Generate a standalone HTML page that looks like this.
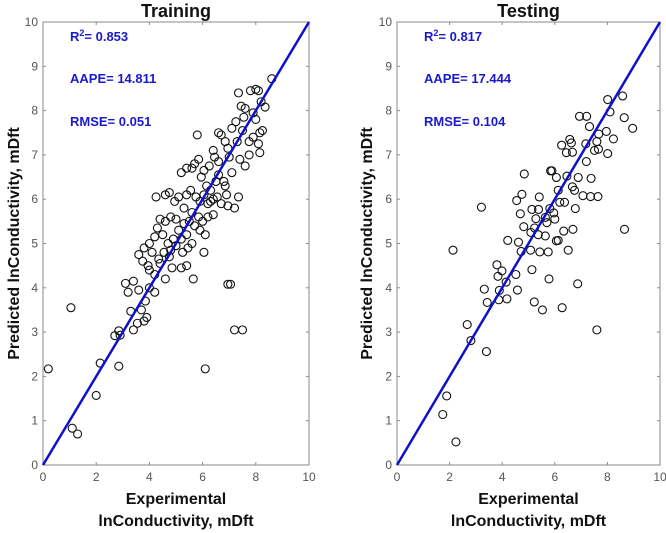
<!DOCTYPE html>
<html><head><meta charset="utf-8"><style>
html,body{margin:0;padding:0;background:#fff;}
svg{display:block;font-family:"Liberation Sans",Arial,sans-serif;}
</style></head><body>
<svg id="chart" width="666" height="533" viewBox="0 0 666 533"></svg>
<script>
const ticks=[0,2,4,6,8,10];
const yticks=[0,1,2,3,4,5,6,7,8,9,10];
const trainX=[0.2,1.05,1.1,1.3,2.0,2.15,2.85,2.7,2.85,2.9,3.3,3.4,3.1,3.2,3.4,3.6,3.8,3.9,3.7,6.1,6.95,7.05,7.2,7.5,5.65,5.4,5.2,4.6,4.85,3.95,4.0,4.2,3.85,3.55,
8.6,7.35,7.8,8.0,8.1,8.2,8.35,7.45,7.6,7.9,8.0,8.25,8.15,7.9,8.1,8.15,7.75,7.6,7.4,6.95,6.7,6.6,5.8,6.4,6.6,7.1,7.0,7.3,7.5,7.1,7.25,5.4,5.6,5.85,5.7,6.05,6.15,6.3,6.5,6.6,6.8,6.9,7.35,7.2,4.25,4.6,4.75,4.95,5.1,5.4,5.55,5.75,5.9,6.2,6.4,5.3,5.6,5.85,6.0,5.7,5.9,6.1,5.5,5.3,5.1,5.0,4.8,4.6,4.4,4.3,4.5,4.7,4.9,5.2,5.4,5.6,4.2,4.0,3.8,4.1,4.35,4.55,4.75,3.6,3.75,4.0,4.2,4.4,4.8,5.0,5.25,5.45,6.05,6.2,6.4,6.3,6.7,6.55,6.85,6.05,6.25,5.95,5.2,7.55,7.75,6.85,6.45,6.95];
const trainY=[2.17,3.55,0.83,0.7,1.57,2.3,2.23,2.92,3.03,2.93,3.47,3.05,4.1,3.9,4.15,3.95,3.25,3.33,3.5,2.17,4.08,4.08,3.05,3.05,4.2,4.5,4.45,4.2,4.45,4.5,4.0,3.9,3.7,3.2,
8.72,8.4,8.45,8.48,8.45,8.2,8.08,8.1,8.05,7.95,7.8,7.55,7.5,7.4,7.25,7.05,7.0,6.75,6.9,7.15,7.45,7.5,7.45,7.1,6.85,6.6,6.95,7.3,7.55,7.6,7.75,6.7,6.7,6.9,6.8,6.1,6.3,6.2,6.4,6.55,6.4,6.1,6.05,5.8,6.05,6.1,6.15,5.95,6.05,6.1,6.2,6.05,5.95,5.9,6.0,5.8,5.7,5.6,5.5,5.4,5.3,5.2,5.5,5.45,5.3,5.55,5.6,5.5,5.55,5.35,5.2,5.0,5.1,5.1,5.2,5.0,5.15,5.0,4.9,4.8,4.65,4.8,4.7,4.75,4.6,4.4,4.3,4.55,4.85,4.95,4.8,4.9,4.8,5.6,5.65,5.95,5.9,6.05,6.3,6.65,6.75,6.5,6.6,7.85,7.3,7.3,6.95,5.85];
const testX=[1.74,1.89,2.24,2.13,2.67,2.81,3.4,3.21,3.32,3.43,3.8,3.84,3.99,3.89,3.87,4.15,4.18,4.21,4.52,4.58,4.62,4.55,4.75,4.84,4.69,4.82,4.72,5.08,5.13,5.22,5.53,5.09,5.13,5.28,5.23,5.38,5.41,5.37,5.43,5.64,5.7,5.64,5.75,5.78,5.81,5.84,5.89,5.96,6.06,6.0,6.06,6.13,6.13,6.19,6.26,6.28,6.34,6.37,6.44,6.46,6.57,6.63,6.67,6.67,6.69,6.75,6.78,6.51,6.87,6.89,6.94,7.07,7.18,7.2,7.21,7.32,7.38,7.36,7.51,7.6,7.67,7.66,7.64,7.6,7.96,8.01,8.01,8.1,8.23,8.58,8.64,8.65,8.96];
const testY=[1.14,1.56,0.52,4.85,3.17,2.81,2.56,5.82,3.97,3.67,4.52,4.26,4.38,3.94,3.73,4.13,3.75,5.07,4.3,3.95,5.03,5.97,6.11,6.57,5.67,5.38,4.82,4.85,4.41,3.68,3.5,5.25,5.77,5.56,5.35,5.77,6.05,5.2,4.81,5.59,5.47,5.17,4.81,4.2,5.79,6.64,6.64,5.69,6.49,5.55,5.06,5.07,6.2,5.93,7.22,3.55,5.28,5.93,7.05,6.52,7.35,7.27,7.06,6.28,5.32,6.2,5.79,4.85,4.09,6.49,7.87,6.08,7.25,6.85,7.87,7.64,6.47,6.06,7.1,7.3,7.47,7.13,6.06,3.05,7.53,7.03,8.25,7.97,7.36,8.33,7.84,5.32,7.6];

const svg=document.getElementById('chart');
const NS='http://www.w3.org/2000/svg';
function mk(tag,attrs,parent){const e=document.createElementNS(NS,tag);for(const k in attrs)e.setAttribute(k,attrs[k]);(parent||svg).appendChild(e);return e;}

function panel(key,x0,x1,y0,y1,title,xs,ys,stats,labelX){
  const g=mk('g',{});
  
  
  const sx=v=>x0+(x1-x0)*v/10, sy=v=>y0-(y0-y1)*v/10;
  const box=mk('rect',{x:x0,y:y1,width:x1-x0,height:y0-y1,fill:'#fff',stroke:'#8a8a8a','stroke-width':1},g);
  
  
  ticks.forEach(t=>{
    mk('line',{x1:sx(t),x2:sx(t),y1:y0,y2:y0-3,stroke:'#8a8a8a'},g);
    mk('line',{x1:sx(t),x2:sx(t),y1:y1,y2:y1+3,stroke:'#8a8a8a'},g);
    const tl=mk('text',{x:sx(t),y:y0+16,'text-anchor':'middle','font-size':12,fill:'#555'},g);
    tl.textContent=t;
    
    
  });
  yticks.forEach(t=>{
    mk('line',{x1:x0,x2:x0+3,y1:sy(t),y2:sy(t),stroke:'#8a8a8a'},g);
    mk('line',{x1:x1,x2:x1-3,y1:sy(t),y2:sy(t),stroke:'#8a8a8a'},g);
    const tl=mk('text',{x:x0-5,y:sy(t)+4,'text-anchor':'end','font-size':12,fill:'#555'},g);
    tl.textContent=t;
    
    
  });
  xs.forEach((v,i)=>{
    const c=mk('circle',{cx:sx(v),cy:sy(ys[i]),r:4,fill:'none',stroke:'#111','stroke-width':1.1},g);
    
    
  });
  const ln=mk('line',{x1:sx(0),y1:sy(0),x2:sx(10),y2:sy(10),stroke:'#1010cc','stroke-width':2.5},g);
  
  
  const tt=mk('text',{x:(x0+x1)/2,y:17,'text-anchor':'middle','font-size':18,'font-weight':'bold',fill:'#111'},g);
  tt.textContent=title;
  
  
  const s1=mk('text',{x:x0+27,y:41,'font-size':13,'font-weight':'bold',fill:'#1a1acc'},g);
  s1.innerHTML='R<tspan dy="-5" font-size="9">2</tspan><tspan dy="5">= '+stats[0]+'</tspan>';
  
  
  const s2=mk('text',{x:x0+27,y:83,'font-size':13,'font-weight':'bold',fill:'#1a1acc'},g);
  s2.textContent='AAPE= '+stats[1];
  
  
  const s3=mk('text',{x:x0+27,y:126,'font-size':13,'font-weight':'bold',fill:'#1a1acc'},g);
  s3.textContent='RMSE= '+stats[2];
  
  
  const yl=mk('text',{x:0,y:0,'text-anchor':'middle','font-size':16,'font-weight':'bold',fill:'#111',transform:'translate('+labelX+','+((y0+y1)/2)+') rotate(-90)'},g);
  yl.textContent='Predicted lnConductivity, mDft';
  
  
  const xl1=mk('text',{x:(x0+x1)/2,y:504,'text-anchor':'middle','font-size':16,'font-weight':'bold',fill:'#111'},g);
  xl1.textContent='Experimental';
  
  
  const xl2=mk('text',{x:(x0+x1)/2,y:526,'text-anchor':'middle','font-size':16,'font-weight':'bold',fill:'#111'},g);
  xl2.textContent='lnConductivity, mDft';
  
  
}
panel('training',43,309,465,22,'Training',trainX,trainY,['0.853','14.811','0.051'],19);
panel('testing',397,660,465,22,'Testing',testX,testY,['0.817','17.444','0.104'],372);
</script>
</body></html>
